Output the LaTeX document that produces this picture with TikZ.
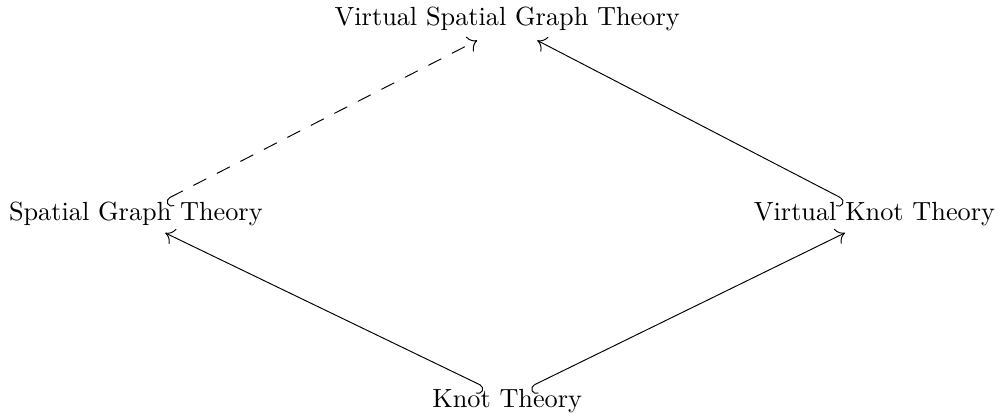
\documentclass[tikz,border=0pt]{standalone}
\usetikzlibrary{arrows.meta}

\begin{document}
\begin{tikzpicture}[
  font=\fontsize{10.95pt}{13.6pt}\selectfont,
  >={To[length=3.6pt, width=7pt]},
  theory/.style={inner sep=0pt},
  incl/.style={line width=0.4pt},
  lhook/.style={incl, {Hooks[left, length=2.2pt, width=8pt]}->},
  rhook/.style={incl, {Hooks[right, length=2.2pt, width=8pt]}->},
  dashes/.style={dash pattern=on 6pt off 5pt},
]
\path[use as bounding box] (0,0) rectangle (14.62,6.08);
\node[theory] (VSG) at (7.43,5.80) {Virtual Spatial Graph Theory};
\node[theory] (SG)  at (1.99,2.95) {Spatial Graph Theory};
\node[theory] (VK)  at (12.81,2.95) {Virtual Knot Theory};
\node[theory] (K)   at (7.43,0.21) {Knot Theory};

\draw[rhook] ([xshift=-0.33cm, yshift=0.02cm]K.north)
  -- ([xshift=0.43cm, yshift=-0.1cm]SG.south);
\draw[lhook] ([xshift=0.33cm, yshift=0.02cm]K.north)
  -- ([xshift=-0.43cm, yshift=-0.1cm]VK.south);
\draw[lhook, dashes] ([xshift=0.43cm, yshift=0.02cm]SG.north)
  -- ([xshift=-0.44cm, yshift=-0.13cm]VSG.south);
\draw[rhook] ([xshift=-0.43cm, yshift=0.02cm]VK.north)
  -- ([xshift=0.44cm, yshift=-0.13cm]VSG.south);
\end{tikzpicture}
\end{document}
